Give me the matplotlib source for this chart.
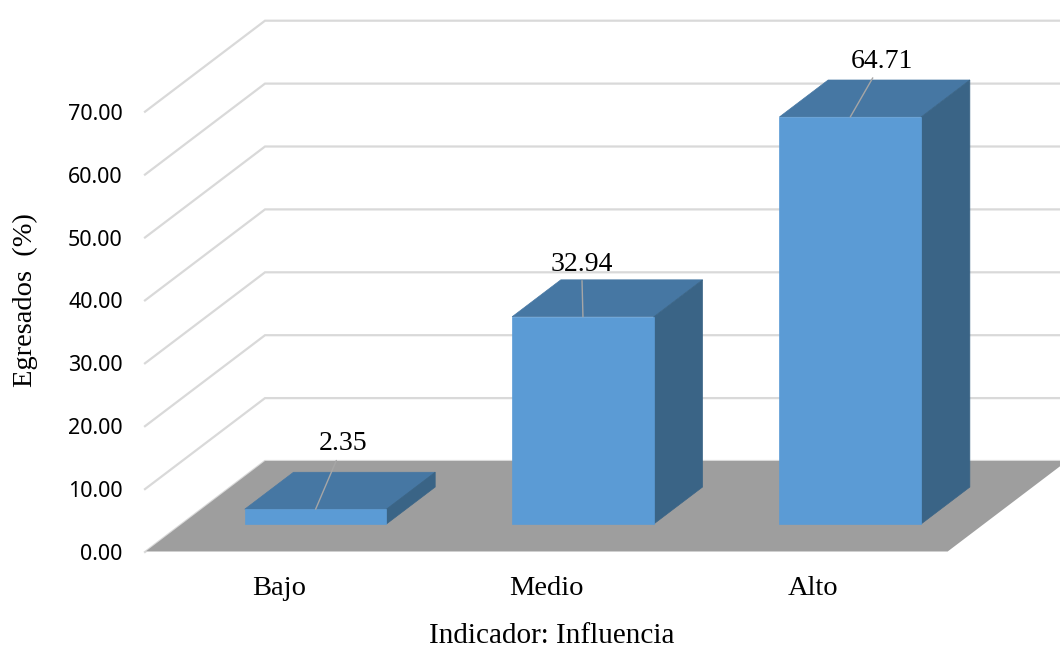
import matplotlib
matplotlib.use("Agg")
import matplotlib.pyplot as plt
from matplotlib.patches import Polygon
import numpy as np

categories = ["Bajo", "Medio", "Alto"]
values = [2.35, 32.94, 64.71]
yticks = [0, 10, 20, 30, 40, 50, 60, 70]
value_labels = ["2.35", "32.94", "64.71"]

# label placement (offset in points from bar front-top center), tweaked by eye
label_offsets = [(20, 38), (-1, 29), (23, 31)]

FRONT = "#5b9bd5"
TOP = "#4677a3"
SIDE = "#3a6486"
FLOOR = "#9e9e9e"
GRID = "#d9d9d9"

plt.rcParams['font.family'] = ['Liberation Serif', 'DejaVu Serif']

W, H = 1060, 651
fig = plt.figure(figsize=(W / 100, H / 100), dpi=100)

# plot box in pixels: floor front edge from x=145 to 947 at y=552
left_px, base_px = 145, 552
px_per_cat = (947 - 145) / 3.0
px_per_val = 6.29
ax = fig.add_axes([left_px / W, (H - base_px) / H, (W - left_px) / W, base_px / H])
xmax = -0.5 + (W - left_px) / px_per_cat
ymax = base_px / px_per_val
ax.set_xlim(-0.5, xmax)
ax.set_ylim(0, ymax)

# oblique depth direction (full floor depth) in data units
DX = 120 / px_per_cat
DY = 91 / px_per_val

# walls / gridlines
for v in yticks:
    ax.plot([-0.5, -0.5 + DX, xmax + 1], [v, v + DY, v + DY], color=GRID, lw=1.6,
            solid_joinstyle='miter', zorder=1, clip_on=False)

# floor
floor = Polygon([(-0.5, 0), (2.5, 0), (2.5 + DX, DY), (-0.5 + DX, DY)],
                closed=True, facecolor=FLOOR, edgecolor='none', zorder=2)
ax.add_patch(floor)
ax.plot([-0.5, 2.5], [0, 0], color=GRID, lw=1.2, zorder=2.5)

# bars
d0, d1 = 0.308, 0.714
bw = 0.53
dd = d1 - d0
xs = np.arange(len(categories)) + d0 * DX
bottom = d0 * DY
ax.bar(xs, values, width=bw, bottom=bottom, color=FRONT, edgecolor=FRONT,
       linewidth=0.5, zorder=5)
for x, v in zip(xs, values):
    xl, xr = x - bw / 2, x + bw / 2
    yt = bottom + v
    top = Polygon([(xl, yt), (xr, yt), (xr + dd * DX, yt + dd * DY), (xl + dd * DX, yt + dd * DY)],
                  closed=True, facecolor=TOP, edgecolor=TOP, lw=0.5, zorder=4)
    side = Polygon([(xr, bottom), (xr, yt), (xr + dd * DX, yt + dd * DY), (xr + dd * DX, bottom + dd * DY)],
                   closed=True, facecolor=SIDE, edgecolor=SIDE, lw=0.5, zorder=4)
    ax.add_patch(top)
    ax.add_patch(side)

# value labels with leader lines
for x, v, lab, off in zip(xs, values, value_labels, label_offsets):
    ax.annotate(lab, xy=(x, bottom + v), xytext=off, textcoords='offset points',
                ha='center', va='bottom', fontsize=20, color='black', zorder=7,
                arrowprops=dict(arrowstyle='-', color='#a6a6a6', lw=1.0,
                                shrinkA=1, shrinkB=0))

# axes text
ax.set_yticks(yticks)
ax.set_yticklabels(["%.2f" % t for t in yticks], family='Noto Sans', fontsize=15.5)
ax.set_xticks(np.arange(len(categories)))
ax.set_xticklabels(categories, fontsize=20.5)
ax.tick_params(axis='y', length=0, pad=16)
ax.tick_params(axis='x', length=0, pad=17)
for s in ax.spines.values():
    s.set_visible(False)
ax.patch.set_visible(False)

fig.text(552 / W, 1 - 636 / H, "Indicador: Influencia", ha='center', va='center', fontsize=21)
fig.text(25 / W, 1 - 300 / H, "Egresados  (%)", ha='center', va='center', rotation=90, fontsize=20.5)

fig.savefig("out.png", dpi=100)
